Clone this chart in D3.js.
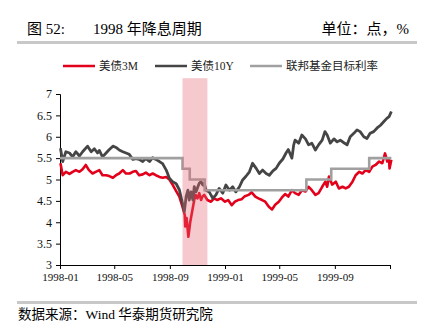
<!DOCTYPE html>
<html><head><meta charset="utf-8">
<script src="https://cdn.jsdelivr.net/npm/d3@7"></script>
<style>
html,body{margin:0;padding:0;background:#fff;}
svg{display:block;}
text{font-family:"Liberation Serif","Times New Roman","Noto Sans CJK SC",serif;}
</style></head>
<body><svg id="c" width="427" height="324"></svg>
<script>
// ---- data ----
const seriesNames = ["美债3M","美债10Y","联邦基金目标利率"];
const yTicks = [3,3.5,4,4.5,5,5.5,6,6.5,7];
const xTickDates = ["1998-01-01","1998-05-01","1998-09-01","1999-01-01","1999-05-01","1999-09-01","2000-01-01"];
const xTickLabels = ["1998-01","1998-05","1998-09","1999-01","1999-05","1999-09",""];
const cutPeriod = ["1998-09-29","1998-11-23"];

const t10Dates = ["1998-01-02","1998-01-07","1998-01-14","1998-01-22","1998-01-29","1998-02-05","1998-02-13","1998-02-20","1998-03-03","1998-03-11","1998-03-18","1998-03-25","1998-03-29","1998-04-05","1998-04-13","1998-04-19","1998-04-28","1998-05-05","1998-05-12","1998-05-20","1998-05-27","1998-06-03","1998-06-11","1998-06-18","1998-06-25","1998-07-03","1998-07-10","1998-07-18","1998-07-25","1998-08-01","1998-08-09","1998-08-16","1998-08-24","1998-08-31","1998-09-07","1998-09-15","1998-09-22","1998-09-29","1998-10-03","1998-10-07","1998-10-11","1998-10-14","1998-10-18","1998-10-22","1998-10-25","1998-10-29","1998-11-02","1998-11-05","1998-11-09","1998-11-13","1998-11-16","1998-11-20","1998-11-27","1998-12-05","1998-12-12","1998-12-19","1998-12-27","1999-01-03","1999-01-11","1999-01-18","1999-01-25","1999-02-02","1999-02-09","1999-02-16","1999-02-24","1999-03-03","1999-03-11","1999-03-18","1999-03-25","1999-04-02","1999-04-09","1999-04-17","1999-04-24","1999-05-01","1999-05-09","1999-05-16","1999-05-21","1999-05-29","1999-06-02","1999-06-05","1999-06-13","1999-06-20","1999-06-28","1999-07-05","1999-07-12","1999-07-20","1999-07-27","1999-08-04","1999-08-10","1999-08-15","1999-08-22","1999-08-30","1999-09-06","1999-09-13","1999-09-21","1999-09-28","1999-10-05","1999-10-13","1999-10-20","1999-10-27","1999-11-04","1999-11-11","1999-11-18","1999-11-26","1999-12-03","1999-12-11","1999-12-18","1999-12-25","1999-12-30","2000-01-04"];
const t10Values = [5.73,5.42,5.65,5.62,5.53,5.65,5.55,5.65,5.78,5.65,5.72,5.62,5.68,5.53,5.62,5.69,5.78,5.75,5.69,5.65,5.62,5.59,5.47,5.49,5.47,5.42,5.49,5.42,5.51,5.47,5.42,5.37,5.22,5.03,4.95,4.9,4.76,4.44,4.25,4.6,4.75,4.52,4.71,4.52,4.83,4.71,4.83,4.91,4.95,4.87,4.91,4.75,4.71,4.56,4.64,4.79,4.68,4.87,4.75,4.83,4.71,4.83,4.99,5.07,5.18,5.38,5.26,5.14,5.22,5.14,5.1,5.2,5.26,5.38,5.48,5.62,5.7,5.5,5.81,5.92,5.85,6.04,5.95,5.81,5.85,5.69,5.81,5.92,6.12,6.04,5.85,5.95,5.88,5.92,5.86,5.81,6.0,6.08,6.16,6.12,6.0,5.96,6.08,6.12,6.2,6.27,6.35,6.43,6.47,6.59];

const t3Dates = ["1998-01-02","1998-01-07","1998-01-14","1998-01-22","1998-01-29","1998-02-05","1998-02-13","1998-02-20","1998-02-27","1998-03-06","1998-03-14","1998-03-21","1998-03-29","1998-04-05","1998-04-13","1998-04-20","1998-04-28","1998-05-05","1998-05-12","1998-05-20","1998-05-27","1998-06-04","1998-06-11","1998-06-18","1998-06-25","1998-07-03","1998-07-10","1998-07-18","1998-07-25","1998-08-01","1998-08-09","1998-08-16","1998-08-24","1998-08-31","1998-09-07","1998-09-15","1998-09-22","1998-09-29","1998-10-04","1998-10-05","1998-10-08","1998-10-12","1998-10-16","1998-10-21","1998-10-25","1998-10-28","1998-11-01","1998-11-05","1998-11-09","1998-11-12","1998-11-16","1998-11-23","1998-12-01","1998-12-08","1998-12-15","1998-12-23","1999-01-01","1999-01-08","1999-01-16","1999-01-23","1999-01-30","1999-02-07","1999-02-14","1999-02-22","1999-03-01","1999-03-09","1999-03-16","1999-03-24","1999-03-31","1999-04-08","1999-04-15","1999-04-22","1999-04-30","1999-05-07","1999-05-14","1999-05-21","1999-05-29","1999-06-05","1999-06-13","1999-06-20","1999-06-28","1999-07-05","1999-07-12","1999-07-20","1999-07-27","1999-08-04","1999-08-11","1999-08-15","1999-08-19","1999-08-26","1999-09-03","1999-09-10","1999-09-18","1999-09-25","1999-10-02","1999-10-10","1999-10-17","1999-10-25","1999-11-01","1999-11-08","1999-11-16","1999-11-23","1999-11-30","1999-12-08","1999-12-15","1999-12-21","1999-12-26","1999-12-30","1999-12-31","2000-01-04"];
const t3Values = [5.38,5.1,5.18,5.13,5.18,5.22,5.18,5.24,5.34,5.22,5.14,5.18,5.22,5.1,5.1,5.08,5.04,5.1,5.14,5.22,5.14,5.14,5.18,5.2,5.1,5.12,5.16,5.1,5.14,5.1,5.06,5.04,5.06,5.0,4.88,4.73,4.6,4.36,4.17,3.9,4.1,3.66,4.0,4.29,4.52,4.64,4.56,4.68,4.52,4.6,4.64,4.52,4.48,4.56,4.52,4.56,4.48,4.52,4.4,4.48,4.52,4.54,4.61,4.64,4.7,4.6,4.56,4.52,4.48,4.36,4.3,4.41,4.48,4.58,4.66,4.6,4.75,4.68,4.64,4.75,4.72,4.83,4.75,4.64,4.68,4.83,4.95,4.83,5.07,4.88,4.95,4.79,4.83,4.79,4.83,4.95,5.1,5.18,5.14,5.22,5.18,5.3,5.34,5.42,5.38,5.61,5.42,5.46,5.26,5.46];

const fedDates = ["1998-01-01","1998-09-29","1998-10-15","1998-11-17","1999-06-30","1999-08-24","1999-11-16","2000-01-04"];
const fedValues = [5.5,5.25,5.0,4.75,5.0,5.25,5.5,5.5];

// ---- drawing ----
const parse = d3.utcParse("%Y-%m-%d");
const svg = d3.select("#c");
const colors = ["#e3001b","#454545","#a0a0a0"];

const x = d3.scaleUtc().domain([parse("1998-01-01"), parse("2000-01-01")]).range([60, 390]);
const y = d3.scaleLinear().domain([3, 7]).range([265, 94]);

// title
svg.append("text").attr("x",27).attr("y",34).attr("font-size",15).text("图 52:");
svg.append("text").attr("x",93).attr("y",34).attr("font-size",15).text("1998 年降息周期");
svg.append("text").attr("x",409).attr("y",34).attr("font-size",15).attr("text-anchor","end").text("单位：点，%");
svg.append("rect").attr("x",17).attr("y",41).attr("width",400).attr("height",3).attr("fill","#c8c8c8");

// footer
svg.append("rect").attr("x",17).attr("y",301).attr("width",400).attr("height",3).attr("fill","#c8c8c8");
svg.append("text").attr("x",18).attr("y",319).attr("font-size",13.5).text("数据来源：Wind 华泰期货研究院");

// legend
const legX = [63, 155, 250];
seriesNames.forEach((n,i)=>{
  svg.append("line").attr("x1",legX[i]).attr("x2",legX[i]+32).attr("y1",66).attr("y2",66)
    .attr("stroke",colors[i]).attr("stroke-width",2.5);
  svg.append("text").attr("x",legX[i]+36).attr("y",70).attr("font-size",11.5).attr("fill","#222").text(n);
});

// axes
const ya = svg.append("g").attr("transform","translate(60,0)")
  .call(d3.axisLeft(y).tickValues(yTicks).tickSize(4).tickPadding(4).tickFormat(d3.format("")));
const xa = svg.append("g").attr("transform","translate(0,265)")
  .call(d3.axisBottom(x).tickValues(xTickDates.map(parse)).tickSize(4).tickPadding(4)
    .tickFormat((d,i)=>xTickLabels[i]));
[ya,xa].forEach(g=>{
  g.select(".domain").attr("stroke","#000");
  g.selectAll(".tick line").attr("stroke","#000");
  g.selectAll(".tick text").attr("fill","#111").attr("font-family","'Liberation Serif',serif");
});
ya.selectAll(".tick text").attr("font-size",12);
xa.selectAll(".tick text").attr("font-size",11);

// lines
const line = d3.line().x(d=>x(d[0])).y(d=>y(d[1]));
const d3m = t3Dates.map((d,i)=>[parse(d), t3Values[i]]);
const d10 = t10Dates.map((d,i)=>[parse(d), t10Values[i]]);
const dfed = fedDates.map((d,i)=>[parse(d), fedValues[i]]);
svg.append("path").datum(d3m).attr("d",line).attr("fill","none").attr("stroke",colors[0]).attr("stroke-width",2.6).attr("stroke-linejoin","round");
svg.append("path").datum(d10).attr("d",line).attr("fill","none").attr("stroke",colors[1]).attr("stroke-width",2.8).attr("stroke-linejoin","round");
svg.append("path").datum(dfed).attr("d",line.curve(d3.curveStepAfter)).attr("fill","none").attr("stroke",colors[2]).attr("stroke-width",2.6);

// shaded rate-cut period
const x0 = x(parse(cutPeriod[0])), x1 = x(parse(cutPeriod[1]));
svg.append("rect").attr("x",x0).attr("width",x1-x0).attr("y",y(7.37)).attr("height",y(3)-y(7.37))
  .attr("fill","rgb(230,100,115)").attr("fill-opacity",0.35);
</script></body></html>
